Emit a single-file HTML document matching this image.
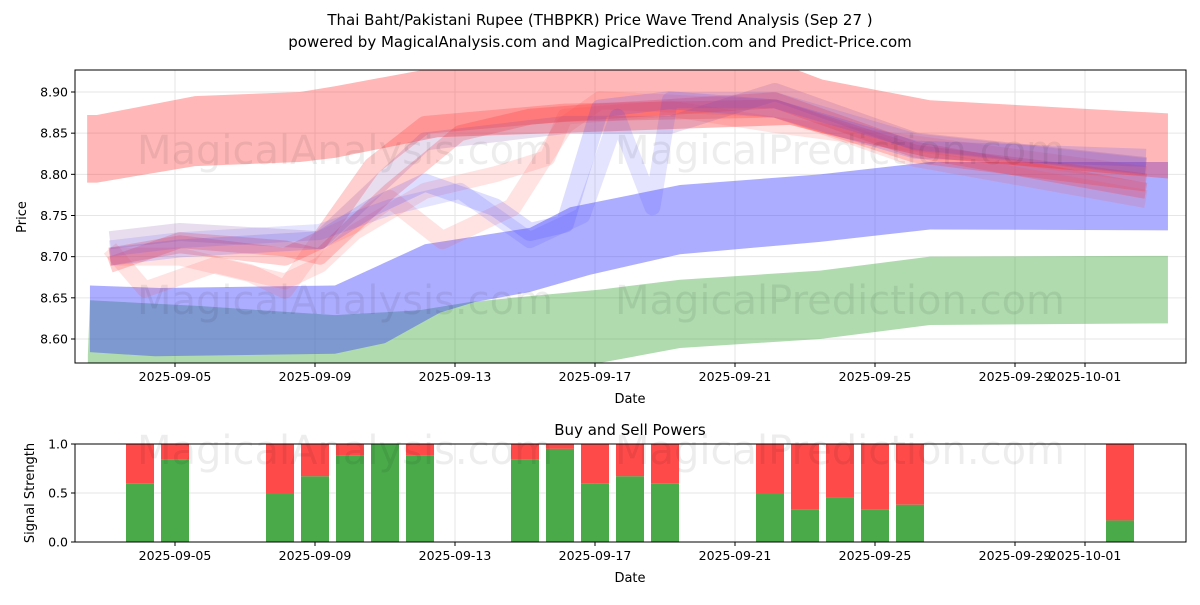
<!DOCTYPE html>
<html><head><meta charset="utf-8">
<style>
body{margin:0;background:#fff;font-family:"Liberation Sans","DejaVu Sans",sans-serif;}
svg text{font-family:"DejaVu Sans","Liberation Sans",sans-serif;}
</style></head>
<body>
<svg id="c" width="1200" height="600" xmlns="http://www.w3.org/2000/svg">
<text x="600" y="25" text-anchor="middle" font-size="15">Thai Baht/Pakistani Rupee (THBPKR) Price Wave Trend Analysis (Sep 27 )</text>
<text x="600" y="47" text-anchor="middle" font-size="15">powered by MagicalAnalysis.com and MagicalPrediction.com and Predict-Price.com</text>
<g id="topPanel"></g>
<g id="botPanel"></g>
</svg>
<script>
const NS="http://www.w3.org/2000/svg";
// x-axis: day of September (Oct 1 = 31)
const tickDays=[5,9,13,17,21,25,29,31];
const tickLabels=["2025-09-05","2025-09-09","2025-09-13","2025-09-17","2025-09-21","2025-09-25","2025-09-29","2025-10-01"];
const yTicks=[8.60,8.65,8.70,8.75,8.80,8.85,8.90];
const greenDays=[2.51,2.57,5.71,9.57,12,13.43,15.14,17.14,19.43,23.43,26.57,33.37];
const greenUpper=[8.58,8.647,8.640,8.629,8.635,8.645,8.652,8.660,8.672,8.683,8.700,8.701];
const greenLower=[8.50,8.50,8.50,8.52,8.54,8.55,8.56,8.571,8.589,8.600,8.617,8.619];
const blueDays=[2.57,4.57,9.57,12.14,15.14,16.29,19.43,23.43,26.57,33.37];
const blueUpper=[8.665,8.662,8.665,8.715,8.735,8.76,8.787,8.80,8.815,8.815];
const blueLowerDays=[2.57,4.43,9.57,11,12.57,13.57,15.14,16.86,19.43,23.43,26.57,33.37];
const blueLower=[8.584,8.579,8.582,8.595,8.632,8.645,8.657,8.678,8.703,8.718,8.733,8.732];
const redDays=[2.49,2.77,5.57,8.57,9.57,12.5,22.57,23.5,26.57,33.37];
const redUpper=[8.872,8.872,8.895,8.90,8.907,8.93,8.93,8.915,8.89,8.874];
const redLower=[8.79,8.79,8.81,8.815,8.82,8.845,8.86,8.85,8.82,8.795];
const redWave1Days=[3.14,5.14,8.14,9.14,10.64,12.14,16.14,22.14,26.14,32.74];
const redWave1=[8.70,8.715,8.70,8.72,8.81,8.86,8.875,8.88,8.825,8.79];
const redWave2Days=[3.14,5.14,8.14,9.14,11.14,13.14,15.14,16.64,22.14,26.14,32.74];
const redWave2=[8.69,8.72,8.71,8.70,8.78,8.85,8.87,8.875,8.89,8.83,8.78];
const redWave3Days=[3.14,5.14,7.14,8.14,9.14,10.14,11.14,12.64,14.64,16.14,17.14,22.14,26.14,32.74];
const redWave3=[8.70,8.70,8.68,8.66,8.72,8.74,8.77,8.72,8.76,8.86,8.89,8.88,8.82,8.77];
const redWave4Days=[3.14,4.14,6.14,8.14,9.14,10.14,12.14,14.14,15.64,16.14,19.14,22.14,32.74];
const redWave4=[8.71,8.66,8.69,8.67,8.69,8.73,8.78,8.80,8.82,8.87,8.88,8.86,8.80];
const blueWave1Days=[3.14,5.14,9.14,10.64,12.14,14.14,15.14,16.14,17.14,19.14,22.14,26.14,32.74];
const blueWave1=[8.70,8.71,8.72,8.76,8.79,8.76,8.73,8.74,8.88,8.89,8.88,8.83,8.82];
const blueWave2Days=[3.14,5.14,9.14,11.14,13.14,15.14,16.64,17.64,18.64,19.14,22.14,26.14,32.74];
const blueWave2=[8.71,8.72,8.73,8.76,8.78,8.72,8.75,8.87,8.76,8.89,8.89,8.84,8.81];
const blueWave3Days=[3.14,5.14,9.14,12.14,16.14,19.14,22.14,26.14,32.74];
const blueWave3=[8.72,8.73,8.72,8.84,8.86,8.86,8.90,8.84,8.81];
const barDays=[4,5,8,9,10,11,12,15,16,17,18,19,22,23,24,25,26,32];
const buyPower=[0.6,0.84,0.5,0.67,0.88,1.0,0.88,0.84,0.95,0.6,0.67,0.6,0.5,0.33,0.45,0.33,0.38,0.22];

const L=75,R=1186,T1=70,B1=363,T2=444,B2=542;
const x=d=>175+(d-5)*35;
const y=v=>92+(8.90-v)*823.3;
const y2=v=>B2-v*(B2-T2);
function el(p,tag,a){const e=document.createElementNS(NS,tag);for(const k in a)e.setAttribute(k,a[k]);p.appendChild(e);return e;}
const topG=document.getElementById('topPanel'),botG=document.getElementById('botPanel');
const svgRoot=document.getElementById('c');
const defs=el(svgRoot,'defs',{});
const cp=el(defs,'clipPath',{id:'cp1'});el(cp,'rect',{x:L,y:T1,width:R-L,height:B1-T1});
const cp2=el(defs,'clipPath',{id:'cp2'});el(cp2,'rect',{x:L,y:T2,width:R-L,height:B2-T2});

for(let i=0;i<tickDays.length;i++){
  const g=el(topG,'line',{x1:x(tickDays[i]),x2:x(tickDays[i]),y1:T1,y2:B1,stroke:'#e6e6e6'});
  
  
  const g2=el(botG,'line',{x1:x(tickDays[i]),x2:x(tickDays[i]),y1:T2,y2:B2,stroke:'#e6e6e6'});
  
  
}
for(const v of yTicks){const g=el(topG,'line',{x1:L,x2:R,y1:y(v),y2:y(v),stroke:'#e6e6e6'});
  
  }
for(const v of [0,0.5,1]){const g=el(botG,'line',{x1:L,x2:R,y1:y2(v),y2:y2(v),stroke:'#e6e6e6'});
  
  }

const plot=el(topG,'g',{'clip-path':'url(#cp1)'});
function band(upDays,up,loDays,lo,color,op,name){
  let pts=upDays.map((d,i)=>x(d)+','+y(up[i]));
  for(let i=loDays.length-1;i>=0;i--)pts.push(x(loDays[i])+','+y(lo[i]));
  const p=el(plot,'polygon',{points:pts.join(' '),fill:color,'fill-opacity':op});
  
  
}
function wave(days,vals,color,op,w,name){
  const p=el(plot,'polyline',{points:days.map((d,i)=>x(d)+','+y(vals[i])).join(' '),fill:'none',stroke:color,'stroke-opacity':op,'stroke-width':w,'stroke-linejoin':'round'});
  
  
}
band(greenDays,greenUpper,greenDays,greenLower,'#2ca02c',0.38,'green-band');
band(blueDays,blueUpper,blueLowerDays,blueLower,'#3b3bff',0.42,'blue-band');
band(redDays,redUpper,redDays,redLower,'#ff3030',0.35,'red-band');
wave(redWave1Days,redWave1,'#ff2020',0.22,18,'red-wave-1');
wave(redWave2Days,redWave2,'#ff2020',0.22,16,'red-wave-2');
wave(redWave3Days,redWave3,'#ff4040',0.15,18,'red-wave-3');
wave(redWave4Days,redWave4,'#ff4040',0.15,16,'red-wave-4');
wave(blueWave1Days,blueWave1,'#4040ff',0.18,18,'blue-wave-1');
wave(blueWave2Days,blueWave2,'#4040ff',0.14,16,'blue-wave-2');
wave(blueWave3Days,blueWave3,'#8040a0',0.18,18,'purple-wave');

[[345,150],[840,150],[345,300],[840,300],[345,450],[840,450]].forEach(p=>{
  const t=el(svgRoot,'text',{x:p[0],y:p[1]+14,'text-anchor':'middle','font-size':40,fill:'#000','fill-opacity':0.07});
  t.textContent=p[0]<500?'MagicalAnalysis.com':'MagicalPrediction.com';
  
  
});

const bp=el(botG,'g',{'clip-path':'url(#cp2)'});
for(let i=0;i<barDays.length;i++){
  const bx=x(barDays[i])-14;
  const r=el(bp,'rect',{x:bx,y:y2(1),width:28,height:y2(buyPower[i])-y2(1),fill:'#ff4a4a'});
  
  
  const g=el(bp,'rect',{x:bx,y:y2(buyPower[i]),width:28,height:B2-y2(buyPower[i]),fill:'#4aaa4a'});
  
  
}

[[topG,T1,B1],[botG,T2,B2]].forEach(([g,t,b])=>{
  const f=el(g,'rect',{x:L,y:t,width:R-L,height:b-t,fill:'none',stroke:'#000','stroke-width':1});
  
  
  for(let i=0;i<tickDays.length;i++){
    el(g,'line',{x1:x(tickDays[i]),x2:x(tickDays[i]),y1:b,y2:b+4,stroke:'#000'});
    const tl=el(g,'text',{x:x(tickDays[i]),y:b+18,'text-anchor':'middle','font-size':12.5});
    tl.textContent=tickLabels[i];
    
    
  }
  const xt=el(g,'text',{x:630,y:b+40,'text-anchor':'middle','font-size':13});
  xt.textContent='Date';
  
  
});
for(const v of yTicks){
  el(topG,'line',{x1:L-4,x2:L,y1:y(v),y2:y(v),stroke:'#000'});
  const t=el(topG,'text',{x:L-7,y:y(v)+4.5,'text-anchor':'end','font-size':12.5});
  t.textContent=v.toFixed(2);
  
  
}
for(const v of [0,0.5,1]){
  el(botG,'line',{x1:L-4,x2:L,y1:y2(v),y2:y2(v),stroke:'#000'});
  const t=el(botG,'text',{x:L-7,y:y2(v)+4.5,'text-anchor':'end','font-size':12.5});
  t.textContent=v.toFixed(1);
  
  
}
const yt=el(topG,'text',{x:26,y:217,'text-anchor':'middle','font-size':13,transform:'rotate(-90 26 217)'});
yt.textContent='Price';


const yt2=el(botG,'text',{x:34,y:493,'text-anchor':'middle','font-size':13,transform:'rotate(-90 34 493)'});
yt2.textContent='Signal Strength';


const bt=el(botG,'text',{x:630,y:435,'text-anchor':'middle','font-size':15});
bt.textContent='Buy and Sell Powers';


</script>
</body></html>
